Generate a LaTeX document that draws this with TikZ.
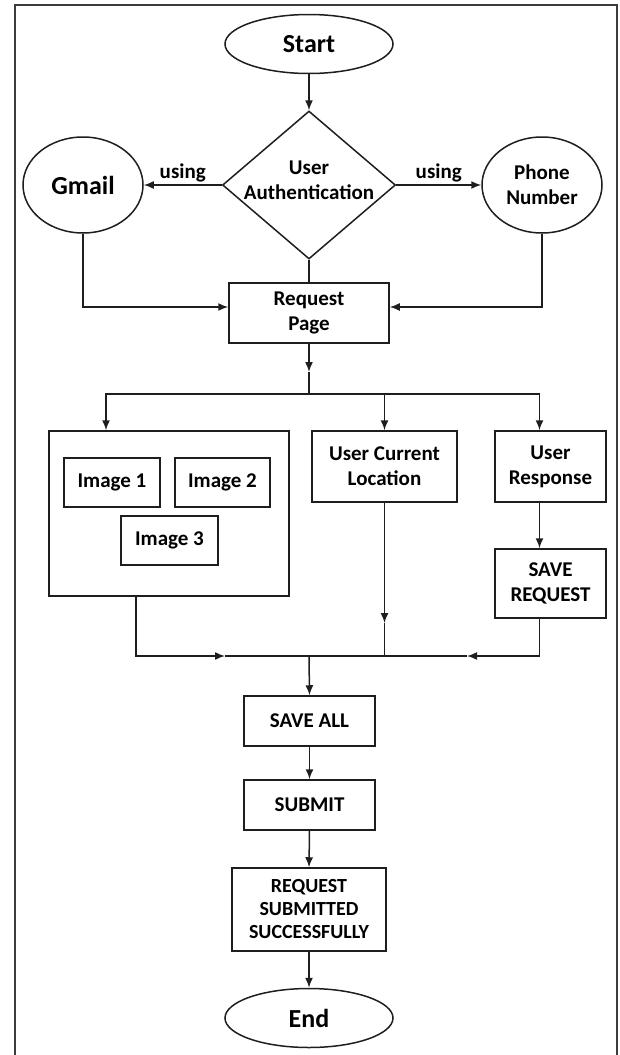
\documentclass[tikz,border=0pt]{standalone}
\usepackage{fontspec}
\setmainfont{Carlito}
\usepackage{tikz}
\usetikzlibrary{shapes.geometric,arrows.meta}
\definecolor{line-dark}{RGB}{30,30,30}
\definecolor{frame-gray}{RGB}{60,60,60}
\newcommand{\bigfont}{\bfseries\fontsize{26}{28}\selectfont}
\newcommand{\boxfont}{\bfseries\fontsize{21}{25}\selectfont}

\begin{document}
\begin{tikzpicture}[x=1pt, y=-1pt,
    flow line/.style={draw=line-dark, line width=1.5pt},
    flow arrow/.style={flow line, -{Latex[length=10pt,width=8pt]}},
    term oval/.style={ellipse, draw=line-dark, line width=1.5pt, minimum width=168pt, minimum height=59pt, inner sep=0pt, font=\bigfont},
    via oval/.style={ellipse, draw=line-dark, line width=1.5pt, minimum width=120pt, minimum height=96pt, inner sep=0pt, font=#1, align=center},
    auth diamond/.style={diamond, draw=line-dark, line width=1.5pt, minimum width=173pt, minimum height=148pt, inner sep=0pt},
    flow box/.style={rectangle, draw=line-dark, line width=1.5pt, inner sep=0pt, font=\boxfont, align=center},
    edge text/.style={font=\boxfont, inner sep=2pt}
]
\useasboundingbox (0,0) rectangle (620,1055);

% Outer frame, open at the bottom
\draw[frame-gray, line width=1.8pt] (15,1055) -- (15,5) -- (617,5) -- (617,1055);

% Start and login choice
\node[term oval] (start) at (309,44) {Start};
\node[auth diamond, label={[font=\boxfont, align=center, yshift=5pt]center:{User\\Authentication}}] (auth) at (309,185) {};
\node[via oval=\bigfont] (gmail) at (83,185) {Gmail};
\node[via oval=\boxfont] (phone) at (542,185) {Phone\\Number};
\node[flow box, minimum width=160pt, minimum height=60pt] (req) at (309,313) {Request\\Page};

% Three inputs of the request
\node[flow box, minimum width=240pt, minimum height=165pt] (imgs) at (169,513.5) {};
\node[flow box, minimum width=96pt, minimum height=49pt] (img1) at (112,482.5) {Image 1};
\node[flow box, minimum width=95pt, minimum height=49pt] (img2) at (222.5,482.5) {Image 2};
\node[flow box, minimum width=97pt, minimum height=49pt] (img3) at (169.5,540.5) {Image 3};
\node[flow box, minimum width=145pt, minimum height=71pt] (loc) at (384.5,466.5) {User Current\\Location};
\node[flow box, minimum width=111pt, minimum height=71pt] (resp) at (550.5,466.5) {User\\Response};
\node[flow box, minimum width=111pt, minimum height=69pt] (savereq) at (550.5,583.5) {SAVE\\REQUEST};

% Closing steps
\node[flow box, minimum width=131pt, minimum height=50pt] (saveall) at (309.5,721) {SAVE ALL};
\node[flow box, minimum width=131pt, minimum height=50pt] (submit) at (309.5,805) {SUBMIT};
\node[flow box, minimum width=154pt, minimum height=83pt, font=\bfseries\fontsize{20}{23}\selectfont] (done) at (309,909.5) {REQUEST\\SUBMITTED\\SUCCESSFULLY};
\node[term oval] (finish) at (309,1018) {End};

% Connectors at the top
\draw[flow arrow] (start.south) -- (auth.north);
\draw[flow arrow] (auth.west) -- node[edge text, above] {using} (gmail.east);
\draw[flow arrow] (auth.east) -- node[edge text, above] {using} (phone.west);
\draw[flow line] (auth.south) -- (req.north);
\draw[flow arrow] (gmail.south) |- ([yshift=6pt]req.west);
\draw[flow arrow] (phone.south) |- ([yshift=6pt]req.east);

% Split into the inputs
\coordinate (req tip) at (309,372);
\coordinate (split) at (309,394);
\draw[flow arrow] (req.south) -- (req tip);
\draw[flow line] (req tip) -- (split);
\draw[flow arrow] (split) -| ([xshift=-63pt]imgs.north);
\draw[flow arrow] (split) -| (loc.north);
\draw[flow arrow] (split) -| ([xshift=-11pt]resp.north);
\draw[flow arrow] ([xshift=-11pt]resp.south) -- ([xshift=-11pt]savereq.north);

% Merge of the inputs
\coordinate (merge) at (309,656);
\coordinate (merge left) at (225,656);
\coordinate (merge right) at (467,656);
\coordinate (loc tip) at (384.5,623);
\draw[flow arrow] ([xshift=-33pt]imgs.south) |- (merge left);
\draw[flow arrow] ([xshift=-11pt]savereq.south) |- (merge right);
\draw[flow line] (merge left) -- (merge right);
\draw[flow arrow] (loc.south) -- (loc tip);
\draw[flow line] (loc tip) -- (loc tip |- merge);

% Final chain
\draw[flow arrow] (merge) -- (saveall.north);
\draw[flow arrow] (saveall.south) -- (submit.north);
\draw[flow arrow] (submit.south) -- (done.north);
\draw[flow arrow] (done.south) -- (finish.north);

\end{tikzpicture}
\end{document}
